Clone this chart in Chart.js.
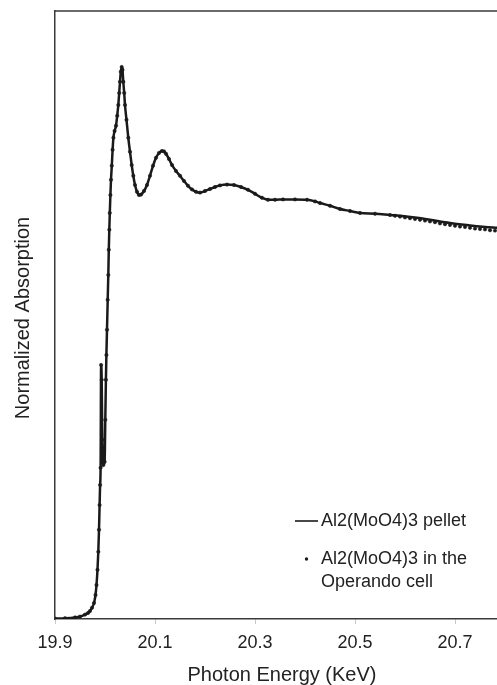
<!DOCTYPE html>
<html>
<head>
<meta charset="utf-8">
<script src="https://cdn.jsdelivr.net/npm/chart.js@4"></script>
<style>
  html, body { margin: 0; padding: 0; background: #ffffff; overflow: hidden; }
  #wrap { width: 497px; height: 685px; position: relative; }
  canvas { display: block; }
</style>
</head>
<body>
<div id="wrap"><canvas id="c" width="497" height="685"></canvas></div>
<script>
// ---- data ----
const xTicks = [19.9, 20.1, 20.3, 20.5, 20.7];

const pelletEnergy = [
  19.900, 19.920, 19.940, 19.950, 19.960, 19.966, 19.970, 19.974, 19.978, 19.981,
  19.983, 19.985, 19.9866, 19.988, 19.9892, 19.9902, 19.9912, 19.9922, 19.9934, 19.9946,
  19.9966, 19.9992, 20.0006, 20.0018, 20.0028, 20.004, 20.0054, 20.0066, 20.0076, 20.0086,
  20.0096, 20.0108, 20.012, 20.0136, 20.0152, 20.0168, 20.0192, 20.022, 20.0244, 20.0266,
  20.0284, 20.030, 20.0316, 20.0334, 20.035, 20.0366, 20.0384, 20.040, 20.043, 20.0466,
  20.050, 20.0534, 20.0566, 20.060, 20.064, 20.068, 20.072, 20.078, 20.084, 20.090,
  20.096, 20.102, 20.108, 20.114, 20.118, 20.122, 20.128, 20.134, 20.142, 20.150,
  20.158, 20.166, 20.174, 20.182, 20.190, 20.200, 20.210, 20.220, 20.230, 20.244,
  20.258, 20.272, 20.286, 20.300, 20.314, 20.326, 20.340, 20.356, 20.380, 20.404,
  20.420, 20.430, 20.450, 20.470, 20.490, 20.510, 20.540, 20.570, 20.590, 20.624,
  20.650, 20.690, 20.730, 20.760, 20.784
];
const pelletAbs = [
  0.001, 0.002, 0.004, 0.006, 0.011, 0.015, 0.020, 0.028, 0.040, 0.060,
  0.085, 0.123, 0.168, 0.223, 0.285, 0.335, 0.378, 0.635, 0.598, 0.448,
  0.385, 0.393, 0.498, 0.598, 0.660, 0.723, 0.798, 0.860, 0.923, 0.973,
  1.015, 1.060, 1.098, 1.133, 1.173, 1.203, 1.220, 1.233, 1.258, 1.285,
  1.315, 1.343, 1.368, 1.380, 1.373, 1.343, 1.315, 1.285, 1.248, 1.203,
  1.168, 1.135, 1.108, 1.085, 1.068, 1.060, 1.061, 1.070, 1.085, 1.108,
  1.133, 1.153, 1.165, 1.170, 1.169, 1.163, 1.150, 1.135, 1.120, 1.108,
  1.095, 1.083, 1.074, 1.068, 1.066, 1.070, 1.075, 1.080, 1.084, 1.086,
  1.085, 1.080, 1.073, 1.063, 1.053, 1.048, 1.048, 1.049, 1.049, 1.048,
  1.044, 1.040, 1.033, 1.025, 1.020, 1.015, 1.013, 1.010, 1.008, 1.003,
  0.998, 0.990, 0.984, 0.980, 0.978
];

// Operando cell: follows the pellet up to ~20.57 keV, then its own tail
const cellSharedUntil = 20.57;
const cellTailEnergy = [
  20.58, 20.59, 20.60, 20.61, 20.62, 20.63, 20.64, 20.65, 20.66, 20.67,
  20.68, 20.69, 20.70, 20.71, 20.72, 20.73, 20.74, 20.75, 20.76, 20.77, 20.78
];
const cellTailAbs = [
  1.008, 1.006, 1.004, 1.002, 1.000, 0.998, 0.996, 0.994, 0.992, 0.989,
  0.987, 0.985, 0.983, 0.981, 0.980, 0.978, 0.976, 0.975, 0.974, 0.972, 0.971
];

const seriesNames = ['Al2(MoO4)3 pellet', 'Al2(MoO4)3 in the', 'Operando cell'];
const xTitle = 'Photon Energy (KeV)';
const yTitle = 'Normalized Absorption';

// ---- build library data from the arrays ----
const pelletPts = pelletEnergy.map((e, i) => ({ x: e, y: pelletAbs[i] }));
const cellPts = pelletPts.filter(p => p.x <= cellSharedUntil)
  .concat(cellTailEnergy.map((e, i) => ({ x: e, y: cellTailAbs[i] })));

const FONT = '"Liberation Sans", Arial, sans-serif';
const INK = '#1a1a1a';

const decor = {
  id: 'decor',
  afterDraw(chart) {
    const { ctx, chartArea: a } = chart;
    ctx.save();
    // top frame line
    ctx.strokeStyle = '#3a3a3a';
    ctx.lineWidth = 1.5;
    ctx.beginPath();
    ctx.moveTo(a.left, a.top);
    ctx.lineTo(a.right, a.top);
    ctx.stroke();

    ctx.fillStyle = '#222';
    // axis titles
    ctx.font = '20px ' + FONT;
    ctx.textAlign = 'center';
    ctx.textBaseline = 'middle';
    ctx.fillText(xTitle, 282, 675);
    ctx.save();
    ctx.translate(23, 318);
    ctx.rotate(-Math.PI / 2);
    ctx.fillText(yTitle, 0, 0);
    ctx.restore();

    // legend
    ctx.font = '18px ' + FONT;
    ctx.textAlign = 'left';
    ctx.textBaseline = 'middle';
    ctx.strokeStyle = INK;
    ctx.lineWidth = 1.6;
    ctx.beginPath();
    ctx.moveTo(295, 521);
    ctx.lineTo(318, 521);
    ctx.stroke();
    ctx.fillText(seriesNames[0], 321, 521);
    ctx.fillStyle = INK;
    ctx.beginPath();
    ctx.arc(306.5, 559, 1.7, 0, Math.PI * 2);
    ctx.fill();
    ctx.fillStyle = '#222';
    ctx.fillText(seriesNames[1], 321, 559);
    ctx.fillText(seriesNames[2], 321, 582);
    ctx.restore();
  }
};

new Chart(document.getElementById('c'), {
  type: 'scatter',
  data: {
    datasets: [
      {
        label: seriesNames[0],
        data: pelletPts,
        showLine: true,
        borderColor: INK,
        borderWidth: 2.5,
        pointRadius: 0,
        pointHoverRadius: 0,
        cubicInterpolationMode: 'monotone',
        order: 2
      },
      {
        label: seriesNames[1] + ' ' + seriesNames[2],
        data: cellPts,
        showLine: false,
        pointRadius: 1.7,
        pointHoverRadius: 0,
        pointBackgroundColor: INK,
        pointBorderColor: INK,
        pointBorderWidth: 0.5,
        order: 1
      }
    ]
  },
  options: {
    responsive: false,
    animation: false,
    events: [],
    layout: { autoPadding: false, padding: { top: 11, right: 0, left: 0, bottom: 0 } },
    plugins: { legend: { display: false }, tooltip: { enabled: false }, title: { display: false } },
    scales: {
      x: {
        type: 'linear',
        min: 19.9,
        max: 20.784,
        afterBuildTicks(scale) { scale.ticks = xTicks.map(v => ({ value: v })); },
        afterFit(scale) { scale.height = 66; scale.paddingRight = 0; scale.paddingLeft = 0; },
        ticks: {
          includeBounds: false,
          autoSkip: false,
          maxRotation: 0,
          padding: 8,
          color: '#222',
          font: { family: FONT, size: 18 },
          callback: v => v.toFixed(1)
        },
        grid: { drawOnChartArea: false, drawTicks: true, tickLength: 5, color: '#c8c8c8', lineWidth: 1 },
        border: { display: true, color: '#3a3a3a', width: 1.5 }
      },
      y: {
        type: 'linear',
        min: 0,
        max: 1.52,
        afterFit(scale) { scale.width = 55; scale.paddingTop = 0; scale.paddingBottom = 0; },
        ticks: { display: false },
        grid: { display: false, drawTicks: false },
        border: { display: true, color: '#3a3a3a', width: 1.5 }
      }
    }
  },
  plugins: [decor]
});
</script>
</body>
</html>
